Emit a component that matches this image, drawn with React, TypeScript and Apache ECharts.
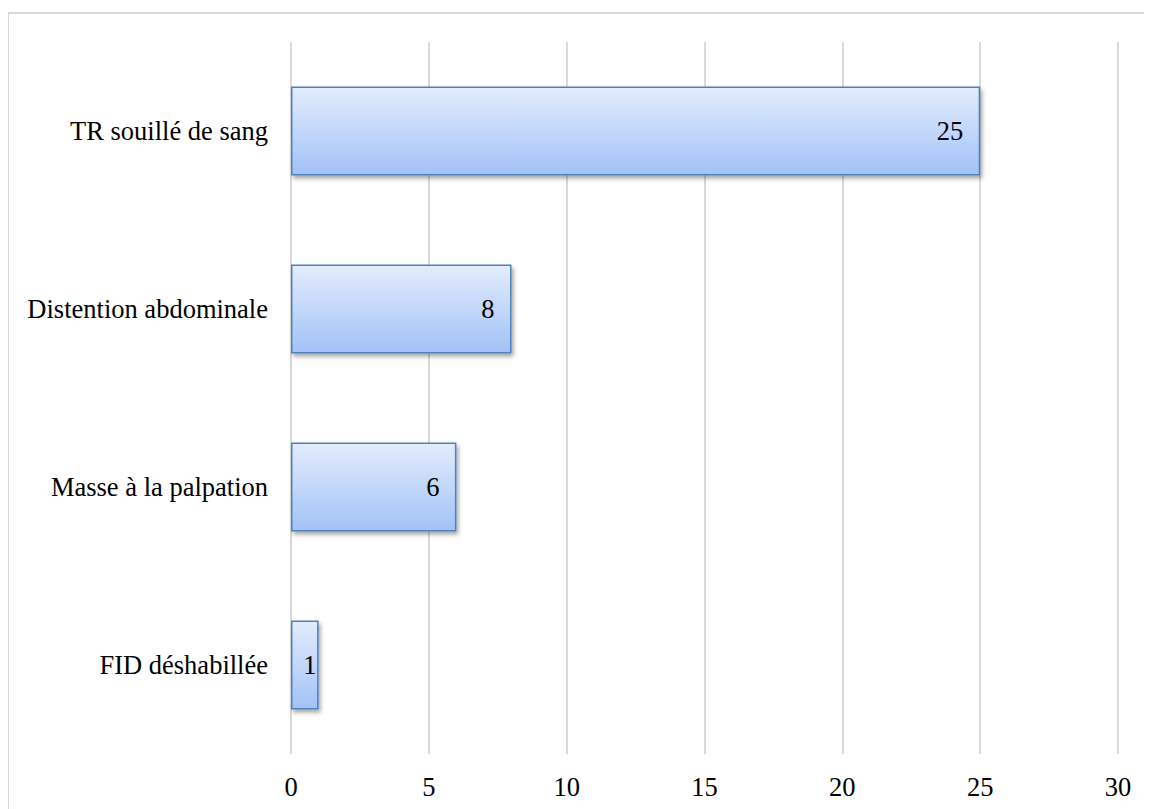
import React, { useEffect, useRef } from "react";
import * as echarts from "echarts";

const categories = ["TR souillé de sang", "Distention abdominale", "Masse à la palpation", "FID déshabillée"];
const values = [25, 8, 6, 1];
const FONT = "Times New Roman, Liberation Serif, serif";

export default function App() {
  const ref = useRef<HTMLDivElement>(null);
  useEffect(() => {
    if (!ref.current) return;
    const chart = echarts.init(ref.current, undefined, { renderer: "svg" });
    chart.setOption({
      animation: false,
      backgroundColor: "#ffffff",
      textStyle: { fontFamily: FONT },
      graphic: [
        { type: "line", shape: { x1: 0, y1: 5, x2: 1144, y2: 5 }, style: { stroke: "#d9d9d9", lineWidth: 2 } },
        { type: "line", shape: { x1: 0, y1: 5, x2: 0, y2: 801 }, style: { stroke: "#d9d9d9", lineWidth: 2 } },
      ],
      grid: { left: 283, right: 34, top: 34, bottom: 55, containLabel: false },
      xAxis: {
        type: "value",
        min: 0,
        max: 30,
        interval: 5,
        axisLine: { show: false },
        axisTick: { show: false },
        axisLabel: { color: "#000", fontFamily: FONT, fontSize: 26.5, margin: 19 },
        splitLine: { show: true, lineStyle: { color: "#d9d9d9", width: 2 } },
      },
      yAxis: {
        type: "category",
        data: categories,
        inverse: true,
        axisLine: { show: false },
        axisTick: { show: false },
        axisLabel: { color: "#000", fontFamily: FONT, fontSize: 26.5, margin: 23 },
        splitLine: { show: false },
      },
      series: [
        {
          type: "bar",
          data: values.map((v) => (v < 2 ? { value: v, label: { distance: 2 } } : v)),
          barWidth: "50%",
          itemStyle: {
            color: new echarts.graphic.LinearGradient(0, 0, 0, 1, [
              { offset: 0, color: "#e3ecfd" },
              { offset: 1, color: "#a2c2f7" },
            ]),
            borderColor: "#4f81bd",
            borderWidth: 1.5,
            shadowColor: "rgba(0,0,0,0.35)",
            shadowBlur: 4,
            shadowOffsetX: 2,
            shadowOffsetY: 3,
          },
          label: {
            show: true,
            position: "insideRight",
            distance: 17,
            color: "#000",
            fontFamily: FONT,
            fontSize: 26.5,
          },
        },
      ],
    });
    return () => chart.dispose();
  }, []);
  return <div ref={ref} style={{ width: 1144, height: 801 }} />;
}
